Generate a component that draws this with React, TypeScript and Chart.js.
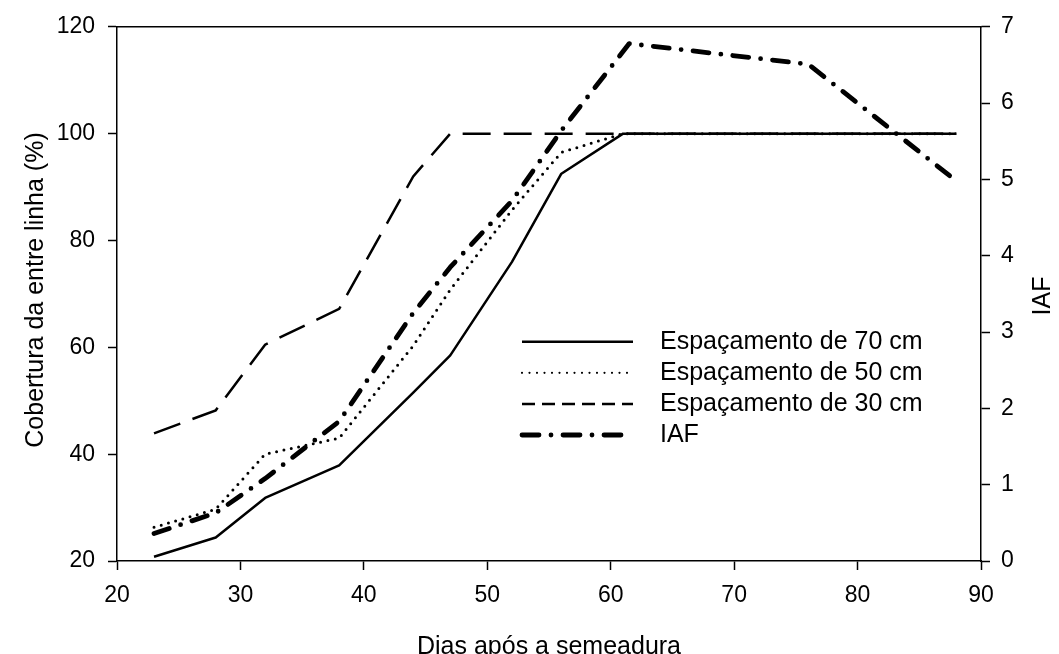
import React, { useEffect, useRef } from 'react';
import { Chart, registerables } from 'chart.js';

Chart.register(...registerables);

// ---- data ----
const days = [23, 28, 32, 38, 44, 47, 52, 56, 61, 76, 88];
const esp70 = [20.8, 24.4, 31.8, 37.9, 51.5, 58.5, 76, 92.5, 100, 100, 100];
const esp50 = [26.3, 29.7, 40, 43, 60.3, 70.8, 85.7, 96.5, 100, 100, 100];
const esp30 = [43.9, 48.2, 60.5, 67.2, 92, 100, 100, 100, 100, 100, 100];
const iafDays = [23, 28, 32, 38, 44, 47, 52, 56, 61.5, 76, 88];
const iaf = [0.36, 0.63, 1.08, 1.83, 3.25, 3.85, 4.72, 5.64, 6.78, 6.51, 4.98];

const seriesLabels = ['Espaçamento de 70 cm', 'Espaçamento de 50 cm', 'Espaçamento de 30 cm', 'IAF'];
const xTitle = 'Dias após a semeadura';
const yTitle = 'Cobertura da entre linha (%)';
const y2Title = 'IAF';

const FONT = 'Arial, "Liberation Sans", sans-serif';

const toPts = (xs: number[], ys: number[]) => xs.map((x, i) => ({ x, y: ys[i] }));

// legend line styles (legend uses shorter dashes than the plot)
const legendStyles = [
  { width: 2.5, dash: [] as number[], cap: 'butt' as CanvasLineCap },
  { width: 2.2, dash: [0, 7.5], cap: 'round' as CanvasLineCap },
  { width: 2.5, dash: [13, 7], cap: 'butt' as CanvasLineCap },
  { width: 4.8, dash: [17, 12, 0, 12], cap: 'round' as CanvasLineCap },
];

const decorPlugin = {
  id: 'decor',
  afterDraw(chart: any) {
    const { ctx, chartArea: a } = chart;
    ctx.save();
    // top frame line
    ctx.strokeStyle = '#000';
    ctx.lineWidth = 1.5;
    ctx.beginPath();
    ctx.moveTo(a.left - 0.75, a.top);
    ctx.lineTo(a.right + 0.75, a.top);
    ctx.stroke();

    // axis titles
    ctx.fillStyle = '#000';
    ctx.textAlign = 'center';
    ctx.textBaseline = 'middle';
    ctx.font = `25px ${FONT}`;
    ctx.save();
    ctx.translate(36, 290);
    ctx.rotate(-Math.PI / 2);
    ctx.fillText(yTitle, 0, 0);
    ctx.restore();
    ctx.save();
    ctx.translate(1043, 296);
    ctx.rotate(-Math.PI / 2);
    ctx.fillText(y2Title, 0, 0);
    ctx.restore();
    ctx.textBaseline = 'alphabetic';
    ctx.fillText(xTitle, (a.left + a.right) / 2, 654);

    // legend
    const x1 = 522, x2 = 633, tx = 660, y0 = 341.7, dy = 31.1;
    seriesLabels.forEach((lab, i) => {
      const y = y0 + i * dy;
      const st = legendStyles[i];
      ctx.save();
      ctx.strokeStyle = '#000';
      ctx.lineWidth = st.width;
      ctx.lineCap = st.cap;
      ctx.setLineDash(st.dash);
      ctx.beginPath();
      ctx.moveTo(x1, y);
      ctx.lineTo(x2, y);
      ctx.stroke();
      ctx.restore();
      ctx.textAlign = 'left';
      ctx.textBaseline = 'middle';
      ctx.font = `25px ${FONT}`;
      ctx.fillText(lab, tx, y);
    });
    ctx.restore();
  },
};

export default function App() {
  const ref = useRef<HTMLCanvasElement | null>(null);
  useEffect(() => {
    if (!ref.current) return;
    const tickFont = { family: FONT, size: 23 };
    const chart = new Chart(ref.current, {
      type: 'line',
      data: {
        datasets: [
          {
            label: seriesLabels[0],
            data: toPts(days, esp70),
            borderColor: '#000',
            borderWidth: 2.5,
            borderJoinStyle: 'round',
            pointRadius: 0,
            tension: 0,
            yAxisID: 'y',
          },
          {
            label: seriesLabels[3],
            data: toPts(iafDays, iaf),
            borderColor: '#000',
            borderWidth: 4.8,
            borderDash: [16, 12, 0, 12],
            borderCapStyle: 'round',
            borderJoinStyle: 'round',
            pointRadius: 0,
            tension: 0,
            yAxisID: 'y2',
          },
          {
            label: seriesLabels[1],
            data: toPts(days, esp50),
            borderColor: '#000',
            borderWidth: 3,
            borderDash: [0, 7.5],
            borderCapStyle: 'round',
            pointRadius: 0,
            tension: 0,
            yAxisID: 'y',
          },
          {
            label: seriesLabels[2],
            data: toPts(days, esp30),
            borderColor: '#000',
            borderWidth: 2.5,
            borderDash: [28, 13],
            pointRadius: 0,
            tension: 0,
            yAxisID: 'y',
          },
        ],
      },
      options: {
        responsive: false,
        animation: false,
        devicePixelRatio: 1,
        layout: { padding: { top: 26, left: 0, right: 0, bottom: 0 } },
        plugins: { legend: { display: false }, tooltip: { enabled: false } },
        scales: {
          x: {
            type: 'linear',
            min: 20,
            max: 90,
            ticks: { stepSize: 10, color: '#000', font: tickFont, padding: 12 },
            grid: { drawOnChartArea: false, tickLength: 9, tickColor: '#000', tickWidth: 1.5 },
            border: { display: true, color: '#000', width: 1.5 },
            afterFit: (s: any) => { s.height = 93; },
          },
          y: {
            type: 'linear',
            position: 'left',
            min: 20,
            max: 120,
            ticks: { stepSize: 20, color: '#000', font: tickFont, padding: 13 },
            grid: { drawOnChartArea: false, tickLength: 9, tickColor: '#000', tickWidth: 1.5 },
            border: { display: true, color: '#000', width: 1.5 },
            afterFit: (s: any) => { s.width = 117; },
          },
          y2: {
            type: 'linear',
            position: 'right',
            min: 0,
            max: 7,
            ticks: { stepSize: 1, color: '#000', font: tickFont, padding: 11 },
            grid: { drawOnChartArea: false, tickLength: 9, tickColor: '#000', tickWidth: 1.5 },
            border: { display: true, color: '#000', width: 1.5 },
            afterFit: (s: any) => { s.width = 78; },
          },
        },
      },
      plugins: [decorPlugin],
    } as any);
    return () => chart.destroy();
  }, []);

  return (
    <div style={{ position: 'fixed', left: 0, top: 0, width: 1059, height: 654, background: '#fff' }}>
      <canvas ref={ref} width={1059} height={654} style={{ display: 'block' }} />
    </div>
  );
}
